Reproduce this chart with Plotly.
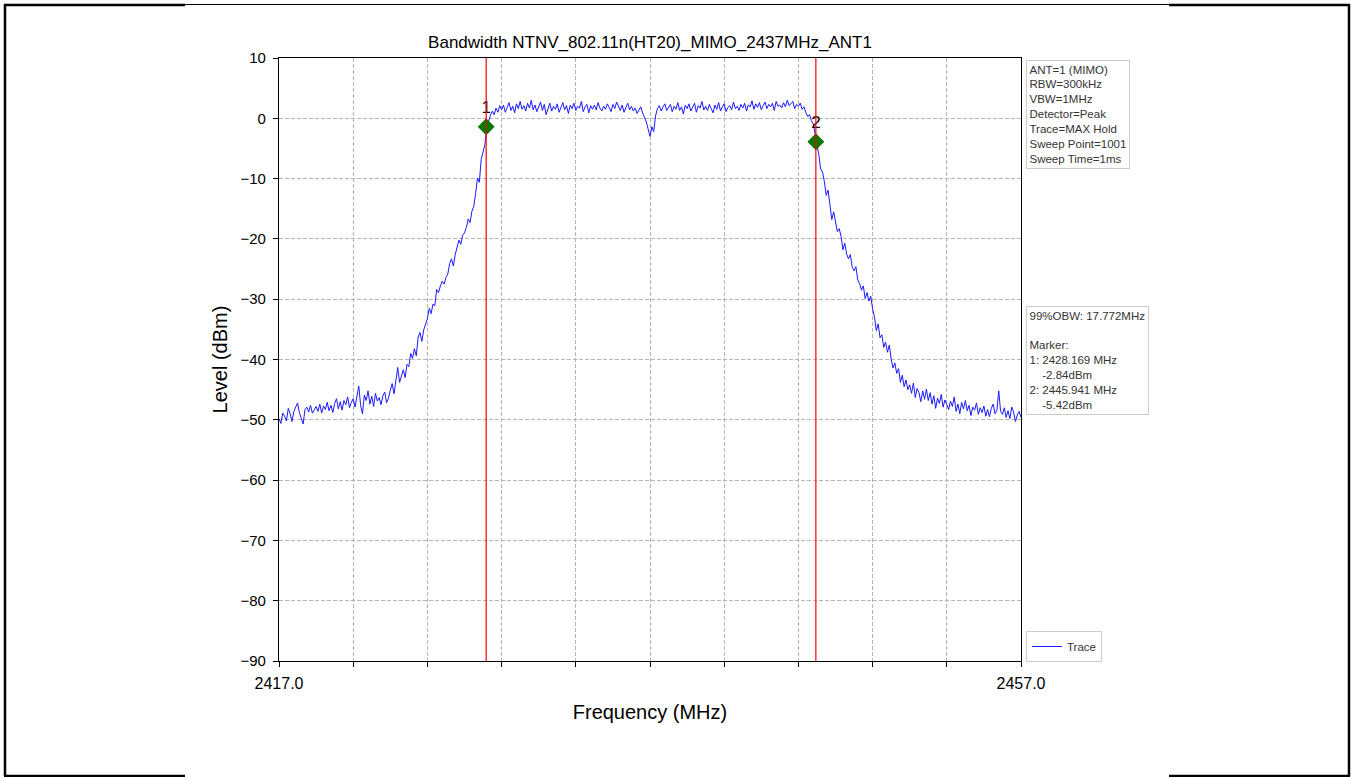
import numpy as np
import plotly.graph_objects as go

# ---------------- data ----------------
chart_title = "Bandwidth NTNV_802.11n(HT20)_MIMO_2437MHz_ANT1"
f_start = 2417.0
f_stop = 2457.0

# Trace levels (dBm), 0.1 MHz sweep step
level = [
    # 2417
    -49.8, -50.6, -48.9, -49.4, -50.2, -48.1, -49.0, -50.3, -48.6, -47.9,
    # 2418
    -47.2, -48.8, -49.6, -50.7, -48.3, -47.9, -48.7, -47.6, -48.9, -48.2,
    # 2419
    -47.8, -48.6, -47.4, -48.9, -47.7, -48.3, -47.1, -48.5, -47.6, -48.8,
    # 2420
    -47.3, -46.5, -48.2, -47.0, -48.4, -46.8, -47.5, -46.2, -48.0, -47.1,
    # 2421
    -46.5, -47.9, -46.0, -44.4, -47.6, -49.0, -45.9, -46.8, -45.2, -47.4,
    # 2422
    -46.1, -47.8, -45.6, -46.9, -46.3, -47.5, -46.0, -45.4, -47.2, -46.4,
    # 2423
    -45.1, -44.0, -45.7, -43.2, -41.3, -43.8, -42.5, -41.7, -43.0, -40.8,
    # 2424
    -41.2, -39.0, -39.8, -38.2, -39.4, -36.3, -35.5, -37.0, -35.1, -34.0,
    # 2425
    -33.2, -31.5, -32.4, -30.8, -31.1, -28.4, -28.9, -27.8, -27.0, -27.5,
    # 2426
    -26.4, -25.8, -24.1, -23.3, -24.5, -22.6, -21.5, -20.2, -20.9, -19.4,
    # 2427
    -19.0, -18.1, -16.7, -17.3, -15.4, -14.6, -12.5, -9.9, -10.6, -6.8,
    # 2428
    -5.6, -4.4, -1.5, -0.3, 0.5, 1.2, 0.6, 1.7, 1.0, 2.1,
    # 2429
    1.4, 2.2, 1.0, 1.8, 2.6, 1.3, 2.0, 0.9, 2.4, 1.6,
    # 2430
    2.8, 1.5, 2.1, 1.2, 2.5, 1.7, 3.0, 1.4, 2.2, 1.1,
    # 2431
    1.9, 2.7, 1.3, 2.3, 0.6, 1.8, 2.5, 1.2, 2.0, 1.5,
    # 2432
    2.4, 1.0, 1.9, 2.6, 1.4, 2.1, 0.8, 2.2, 1.6, 2.5,
    # 2433
    1.3, 2.0, 1.7, 2.8, 1.1, 1.9, 2.3, 0.9, 2.1, 1.5,
    # 2434
    2.2, 1.4, 2.6, 1.7, 1.2, 2.0, 1.5, 2.4, 1.8, 1.1,
    # 2435
    2.3, 1.6, 2.7, 1.9, 1.3, 2.2, 1.0, 1.8, 2.5, 1.4,
    # 2436
    2.0, 1.2, 1.7, 0.8, 1.5, 1.9, 0.9, 0.2, -0.6, -1.8,
    # 2437
    -3.0, -1.4, -2.2, 0.4, 1.6, 2.1, 1.2, 1.9, 2.4, 1.3,
    # 2438
    1.8, 2.3, 1.1, 2.0, 1.5, 2.6, 1.3, 1.9, 0.7, 2.2,
    # 2439
    1.6, 2.4, 1.2, 1.8, 2.5, 1.0, 2.1, 1.7, 2.8, 1.4,
    # 2440
    2.0, 1.3, 2.3, 1.6, 0.9, 2.2, 1.5, 2.6, 1.2, 1.9,
    # 2441
    2.4, 1.1, 1.8, 2.1, 1.4, 2.7, 1.6, 2.0, 1.3, 2.3,
    # 2442
    1.7, 2.5, 1.2, 2.2, 1.9, 2.9, 1.5, 2.4, 1.8, 2.6,
    # 2443
    1.4, 2.1, 2.7, 1.6, 2.3, 1.9, 2.5, 1.3, 2.8, 2.0,
    # 2444
    2.2, 1.7, 2.6, 1.9, 3.0, 2.1, 2.4, 2.8, 1.6, 2.3,
    # 2445
    2.0, 2.5, 1.5, 1.9, 1.0, 0.3, 0.6, -0.4, -0.9, -2.6,
    # 2446
    -4.2, -6.0, -8.4, -8.9, -10.5, -12.8, -11.9, -14.6, -16.8, -15.5,
    # 2447
    -16.9, -18.8, -18.3, -19.6, -21.8, -20.7, -22.5, -23.3, -22.6, -24.7,
    # 2448
    -25.3, -24.6, -26.8, -27.4, -28.5, -27.8, -29.9, -28.9, -30.3, -29.5,
    # 2449
    -31.6, -32.9, -35.2, -34.1, -36.4, -35.9, -38.0, -37.1, -38.8, -37.6,
    # 2450
    -39.9, -41.4, -40.6, -42.3, -41.5, -43.8, -42.6, -44.5, -43.4, -45.0,
    # 2451
    -44.2, -45.6, -43.9, -46.3, -44.8, -45.5, -47.0, -45.2, -46.6, -44.9,
    # 2452
    -46.8, -45.5, -47.4, -46.0, -48.1, -46.4, -47.3, -45.8, -47.9, -46.7,
    # 2453
    -47.5, -48.3, -46.9, -47.8, -46.2, -48.6, -47.4, -49.0, -47.1, -48.2,
    # 2454
    -46.8, -48.5, -47.6, -49.3, -47.9, -48.4, -47.2, -49.1, -48.0, -48.8,
    # 2455
    -47.7, -49.4, -48.3, -49.5, -48.1, -47.4, -49.0, -48.4, -45.2, -48.6,
    # 2456
    -49.1, -48.0, -49.6, -48.5, -49.8, -47.9, -48.7, -50.3, -49.2, -48.6,
    # 2457
    -49.6,
]
freq = np.linspace(f_start, f_stop, len(level))

marker_names = ["1", "2"]
marker_freq = [2428.169, 2445.941]
marker_level = [-1.4, -3.9]          # where the diamonds sit in the picture
marker_level_text = ["-2.84dBm", "-5.42dBm"]
obw_text = "17.772MHz"

settings = ["ANT=1 (MIMO)", "RBW=300kHz", "VBW=1MHz", "Detector=Peak",
            "Trace=MAX Hold", "Sweep Point=1001", "Sweep Time=1ms"]

y_ticks = [10, 0, -10, -20, -30, -40, -50, -60, -70, -80, -90]
x_ticks = [2417, 2421, 2425, 2429, 2433, 2437, 2441, 2445, 2449, 2453, 2457]
x_tick_text = ["2417.0", "", "", "", "", "", "", "", "", "", "2457.0"]

# ---------------- layout helpers ----------------
W, H = 1351, 777
ML, MR, MT, MB = 279, 330, 58, 116
PW, PH = W - ML - MR, H - MT - MB


def px(x):
    return (x - ML) / PW


def py(y):
    return (H - MB - y) / PH


FONT = "Liberation Sans, Arial, sans-serif"

fig = go.Figure()

fig.add_trace(go.Scatter(
    x=freq, y=level, mode="lines", name="Trace",
    line=dict(color="#1a1aff", width=1), showlegend=True,
))

for mf in marker_freq:
    fig.add_shape(type="line", xref="x", yref="paper", x0=mf, x1=mf, y0=0, y1=1,
                  line=dict(color="#ff0000", width=1.2), layer="above")

fig.add_trace(go.Scatter(
    x=marker_freq, y=marker_level, mode="markers+text", text=marker_names,
    textposition="top center", textfont=dict(size=17, color="black", family=FONT),
    marker=dict(symbol="diamond", size=13, color="#007a00"), showlegend=False,
))

# settings box
fig.add_annotation(
    xref="paper", yref="paper", x=px(1026), y=py(60), xanchor="left", yanchor="top",
    text="<br>".join(settings), showarrow=False, align="left",
    font=dict(size=11.5, color="#333333", family=FONT),
    bordercolor="#cccccc", borderwidth=1, borderpad=2.5, bgcolor="white",
)

marker_lines = [f"99%OBW: {obw_text}", "", "Marker:"]
for n, mf, mt in zip(marker_names, marker_freq, marker_level_text):
    marker_lines.append(f"{n}: {mf:.3f} MHz")
    marker_lines.append("\u00a0\u00a0\u00a0\u00a0" + mt)
fig.add_annotation(
    xref="paper", yref="paper", x=px(1026), y=py(306), xanchor="left", yanchor="top",
    text="<br>".join(marker_lines), showarrow=False, align="left",
    font=dict(size=11.5, color="#333333", family=FONT),
    bordercolor="#cccccc", borderwidth=1, borderpad=2.5, bgcolor="white",
)

# outer frame
fig.add_shape(type="line", xref="paper", yref="paper", x0=px(5), x1=px(5), y0=py(4), y1=py(776),
              line=dict(color="black", width=2.5))
fig.add_shape(type="line", xref="paper", yref="paper", x0=px(1349), x1=px(1349), y0=py(4), y1=py(776),
              line=dict(color="black", width=2.5))
fig.add_shape(type="line", xref="paper", yref="paper", x0=px(4), x1=px(185), y0=py(5), y1=py(5),
              line=dict(color="black", width=2.5))
fig.add_shape(type="line", xref="paper", yref="paper", x0=px(1169), x1=px(1350), y0=py(5), y1=py(5),
              line=dict(color="black", width=2.5))
fig.add_shape(type="line", xref="paper", yref="paper", x0=px(185), x1=px(1169), y0=py(4.5), y1=py(4.5),
              line=dict(color="black", width=1))
fig.add_shape(type="line", xref="paper", yref="paper", x0=px(4), x1=px(185), y0=py(776), y1=py(776),
              line=dict(color="black", width=2.5))
fig.add_shape(type="line", xref="paper", yref="paper", x0=px(1169), x1=px(1350), y0=py(776), y1=py(776),
              line=dict(color="black", width=2.5))

fig.update_layout(
    width=W, height=H,
    margin=dict(l=ML, r=MR, t=MT, b=MB),
    paper_bgcolor="white", plot_bgcolor="white",
    font=dict(family=FONT, color="black"),
    title=dict(text=chart_title, xref="container", x=650 / W, xanchor="center",
               yref="container", y=1 - 42 / H, yanchor="middle",
               font=dict(size=17, color="black", family=FONT)),
    showlegend=True,
    legend=dict(x=px(1026), y=py(662), xanchor="left", yanchor="bottom",
                bordercolor="#cccccc", borderwidth=1, bgcolor="white",
                font=dict(size=11.5, color="#333333", family=FONT),
                itemwidth=30, tracegroupgap=0),
)

fig.update_xaxes(
    range=[f_start, f_stop], tickmode="array", tickvals=x_ticks, ticktext=x_tick_text,
    showline=True, linecolor="black", linewidth=1.2, mirror=True,
    ticks="outside", ticklen=5, tickcolor="black", ticklabelstandoff=3,
    showgrid=True, gridcolor="#b5b5b5", griddash="4px,2px", gridwidth=1,
    zeroline=False, tickfont=dict(size=16, family=FONT),
    title=dict(text="Frequency (MHz)", font=dict(size=20, family=FONT), standoff=13),
)
fig.update_yaxes(
    range=[-90, 10], tickmode="array", tickvals=y_ticks,
    showline=True, linecolor="black", linewidth=1.2, mirror=True,
    ticks="outside", ticklen=5, tickcolor="black", ticklabelstandoff=4,
    showgrid=True, gridcolor="#b5b5b5", griddash="4px,2px", gridwidth=1,
    zeroline=False, tickfont=dict(size=15, family=FONT),
    title=dict(text="Level (dBm)", font=dict(size=20, family=FONT), standoff=7),
)

fig.write_html("out.html", config={"displayModeBar": False},
               post_script="document.body.style.margin='0';")
